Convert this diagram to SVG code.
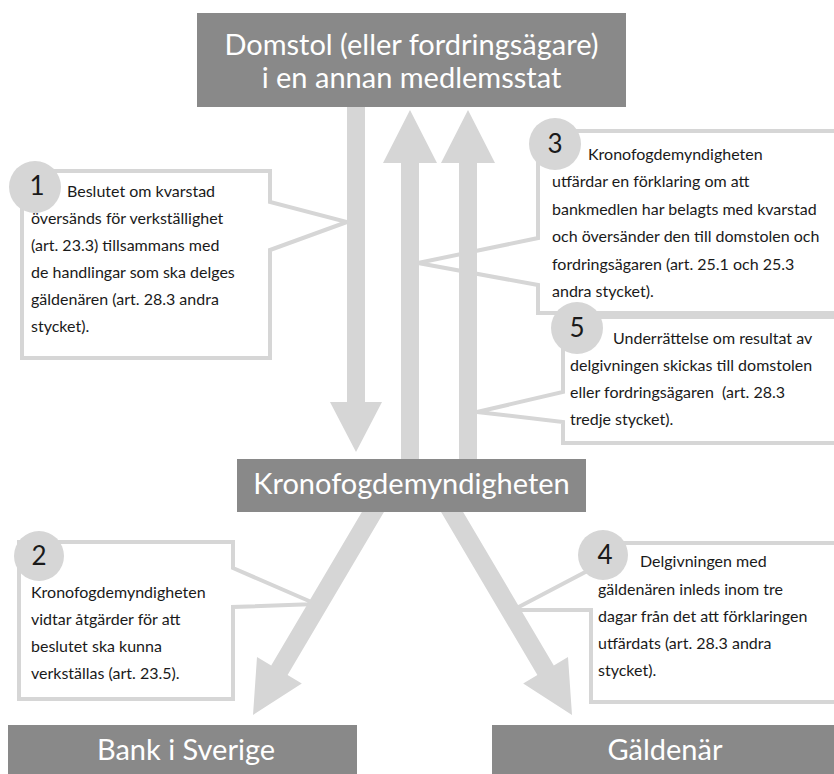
<svg xmlns="http://www.w3.org/2000/svg" width="834" height="774" viewBox="0 0 834 774">
<style>
.box{fill:#898989}
.lbl{font-family:Lato,"Open Sans","DejaVu Sans",sans-serif;font-size:29px;fill:#ffffff;text-anchor:middle}
.arrow{fill:#d6d6d6}
.call{fill:#ffffff;stroke:#d6d6d6;stroke-width:4;stroke-linejoin:miter}
.badge{fill:#d6d6d6}
.num{font-family:Lato,"Open Sans","DejaVu Sans",sans-serif;font-size:26px;fill:#1a1a1a;text-anchor:middle}
.txt{font-family:Lato,"Open Sans","DejaVu Sans",sans-serif;font-size:16px;fill:#1a1a1a}
</style>
<rect x="0" y="0" width="834" height="774" fill="#ffffff"/>

<g id="callout1">
<polygon class="call" points="22,171 270,171 270,202 347,222 270,250 270,358 22,358"/>
<circle class="badge" cx="35" cy="187" r="26"/>
<text class="num" x="37" y="195">1</text>
<text class="txt" x="67" y="197">Beslutet om kvarstad</text>
<text class="txt" x="31" y="224">översänds för verkställighet</text>
<text class="txt" x="31" y="251">(art. 23.3) tillsammans med</text>
<text class="txt" x="31" y="278">de handlingar som ska delges</text>
<text class="txt" x="31" y="305">gäldenären (art. 28.3 andra</text>
<text class="txt" x="31" y="332">stycket).</text>
</g>

<g id="callout2">
<polygon class="call" points="19,542 233,542 233,568 316,604 233,607 233,699 19,699"/>
<circle class="badge" cx="39" cy="556" r="25"/>
<text class="num" x="39" y="565">2</text>
<text class="txt" x="31" y="598">Kronofogdemyndigheten</text>
<text class="txt" x="31" y="625">vidtar åtgärder för att</text>
<text class="txt" x="31" y="652">beslutet ska kunna</text>
<text class="txt" x="31" y="679">verkställas (art. 23.5).</text>
</g>

<g id="callout3">
<polygon class="call" points="538,131 850,131 850,313 538,313 538,285 418,263 538,238"/>
<circle class="badge" cx="555" cy="144" r="26"/>
<text class="num" x="555" y="153">3</text>
<text class="txt" x="588" y="160">Kronofogdemyndigheten</text>
<text class="txt" x="552" y="187">utfärdar en förklaring om att</text>
<text class="txt" x="552" y="215">bankmedlen har belagts med kvarstad</text>
<text class="txt" x="552" y="242">och översänder den till domstolen och</text>
<text class="txt" x="552" y="270">fordringsägaren (art. 25.1 och 25.3</text>
<text class="txt" x="552" y="297">andra stycket).</text>
</g>

<g id="callout5">
<polygon class="call" points="563,317 850,317 850,443 563,443 563,422 477,412 563,392"/>
<circle class="badge" cx="577" cy="328" r="26"/>
<text class="num" x="577" y="337">5</text>
<text class="txt" x="613" y="344">Underrättelse om resultat av</text>
<text class="txt" x="570" y="371">delgivningen skickas till domstolen</text>
<text class="txt" x="570" y="398" xml:space="preserve">eller fordringsägaren  (art. 28.3</text>
<text class="txt" x="570" y="425">tredje stycket).</text>
</g>

<g id="callout4">
<polygon class="call" points="591,543 850,543 850,702 591,702 591,610 513,610 591,569"/>
<circle class="badge" cx="603" cy="555" r="25"/>
<text class="num" x="605" y="564">4</text>
<text class="txt" x="640" y="567">Delgivningen med</text>
<text class="txt" x="598" y="595">gäldenären inleds inom tre</text>
<text class="txt" x="598" y="622">dagar från det att förklaringen</text>
<text class="txt" x="598" y="649">utfärdats (art. 28.3 andra</text>
<text class="txt" x="598" y="676">stycket).</text>
</g>

<g id="connectors">
<polygon class="arrow" points="347,100 365,100 365,402 382,402 356,452 330,402 347,402"/>
<polygon class="arrow" points="401,480 401,163 383,163 410,110 437,163 419,163 419,480"/>
<polygon class="arrow" points="459,480 459,163 441,163 468,110 495,163 477,163 477,480"/>
<polygon class="arrow" points="371.8,495.2 388.2,504.8 287.6,675 301.8,683.4 253,715 257,657 271.2,665.4"/>
<polygon class="arrow" points="453.2,495.2 436.8,504.8 537.4,675 523.2,683.4 572,715 568,657 553.8,665.4"/>
</g>

<g id="domstol">
<rect class="box" x="197" y="13" width="429" height="94"/>
<text class="lbl" x="411.5" y="55">Domstol (eller fordringsägare)</text>
<text class="lbl" x="411.5" y="88">i en annan medlemsstat</text>
</g>

<g id="kronofogden">
<rect class="box" x="237" y="459" width="349" height="53"/>
<text class="lbl" x="411.5" y="494">Kronofogdemyndigheten</text>
</g>

<g id="bank">
<rect class="box" x="8" y="725" width="349" height="49"/>
<text class="lbl" x="186" y="760">Bank i Sverige</text>
</g>

<g id="galdenar">
<rect class="box" x="492" y="725" width="342" height="49"/>
<text class="lbl" x="665" y="760">Gäldenär</text>
</g>
</svg>
